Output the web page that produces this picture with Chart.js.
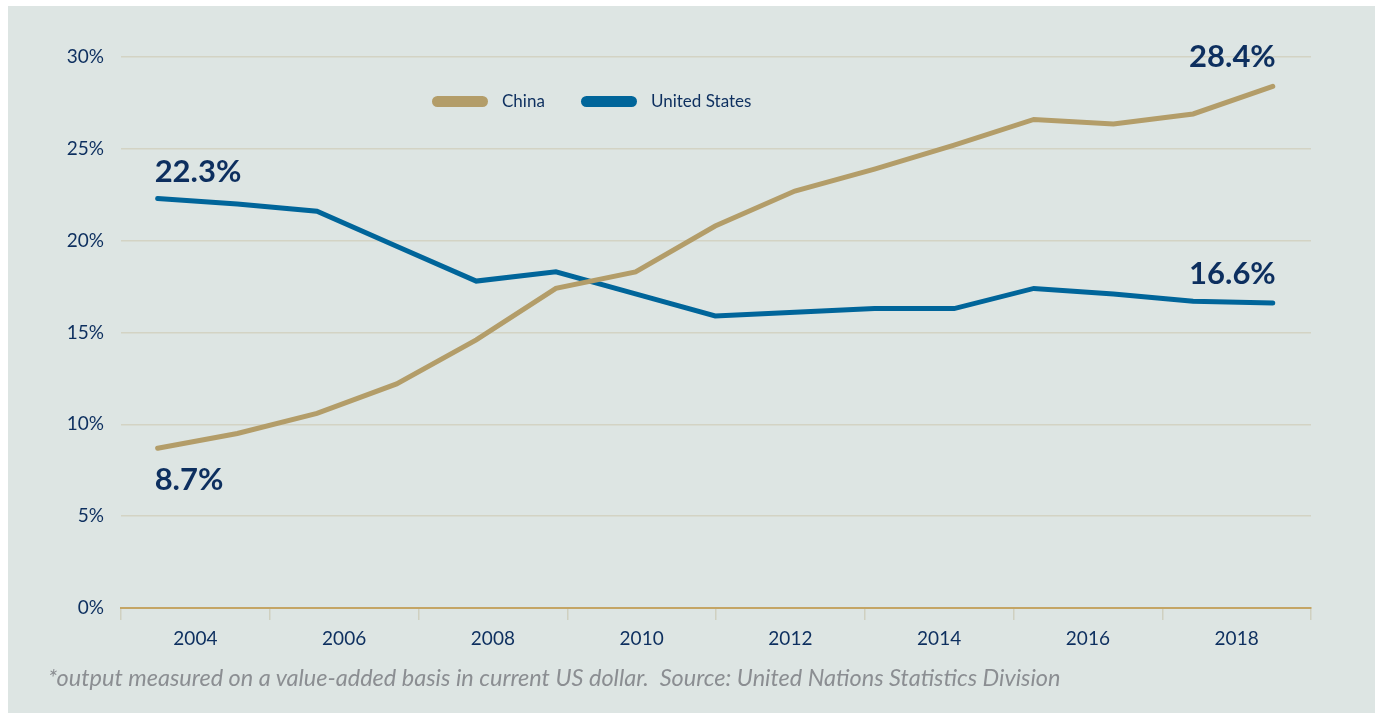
<!DOCTYPE html>
<html>
<head>
<meta charset="utf-8">
<script src="https://cdn.jsdelivr.net/npm/chart.js@4"></script>
<style>
  html, body { margin: 0; padding: 0; background: #fff; }
  #wrap { position: relative; width: 1375px; height: 713px; overflow: hidden; }
  #bg { position: absolute; left: 8px; top: 6px; right: 0; bottom: 0; background: #dde5e3; }
  #chart { position: absolute; left: 0; top: 0; }
  .legend { position: absolute; top: 91px; font: 17px Lato, sans-serif; color: #0d2f5f; }
  .legend span.sw { position: absolute; top: 5px; width: 56px; height: 11px; border-radius: 6px; }
  .legend span.tx { position: absolute; top: 0; white-space: nowrap; line-height: 20px; }
  #note { position: absolute; left: 48px; top: 663px; font: italic 23.5px Lato, sans-serif; color: #8b8e92; white-space: nowrap; }
</style>
</head>
<body>
<div id="wrap">
  <div id="bg"></div>
  <canvas id="chart" width="1375" height="713"></canvas>
  <div class="legend" style="left:432px"><span class="sw" style="left:0;background:#b39d69"></span><span class="tx" style="left:70px">China</span></div>
  <div class="legend" style="left:581px"><span class="sw" style="left:0;background:#00659a"></span><span class="tx" style="left:70px">United States</span></div>
  <div id="note">*output measured on a value-added basis in current US dollar.&nbsp; Source: United Nations Statistics Division</div>
</div>
<script>
// données (part de la production manufacturière mondiale, %)
const years = [2004, 2005, 2006, 2007, 2008, 2009, 2010, 2011, 2012, 2013, 2014, 2015, 2016, 2017, 2018];
const china = [8.7, 9.5, 10.6, 12.2, 14.6, 17.4, 18.3, 20.8, 22.7, 23.9, 25.2, 26.6, 26.35, 26.9, 28.4];
const usa = [22.3, 22.0, 21.6, 19.7, 17.8, 18.3, 17.1, 15.9, 16.1, 16.3, 16.3, 17.4, 17.1, 16.7, 16.6];
const axisLabels = ['2004', '2006', '2008', '2010', '2012', '2014', '2016', '2018'];
const yTicks = [0, 5, 10, 15, 20, 25, 30];

const navy = '#0d2f5f';
const gold = '#b39d69';
const blue = '#00659a';

// étiquettes de début / fin de série
const endLabels = {
    id: 'endLabels',
    afterDatasetsDraw(chart) {
        const ctx = chart.ctx;
        ctx.save();
        ctx.font = 'bold 31px Lato, sans-serif';
        ctx.fillStyle = navy;
        chart.data.datasets.forEach((ds, i) => {
            const pts = chart.getDatasetMeta(i).data;
            const first = pts[0], last = pts[pts.length - 1];
            const v0 = ds.data[0].y, v1 = ds.data[ds.data.length - 1].y;
            // premier point
            ctx.textAlign = 'left';
            if (ds.label === 'China') {
                ctx.textBaseline = 'top';
                ctx.fillText(v0.toFixed(1) + '%', first.x - 3, first.y + 16);
            } else {
                ctx.textBaseline = 'alphabetic';
                ctx.fillText(v0.toFixed(1) + '%', first.x - 3, first.y - 16);
            }
            // dernier point
            ctx.textAlign = 'right';
            ctx.textBaseline = 'alphabetic';
            ctx.fillText(v1.toFixed(1) + '%', last.x + 3, last.y - 19);
        });
        ctx.restore();
    }
};

function toPoints(values) {
    return values.map((v, i) => ({ x: years[i], y: v }));
}

const ctx = document.getElementById('chart').getContext('2d');
new Chart(ctx, {
    type: 'line',
    data: {
        labels: axisLabels,
        datasets: [
            { label: 'China', data: toPoints(china), borderColor: gold, borderWidth: 5, pointRadius: 0, borderCapStyle: 'round', tension: 0, xAxisID: 'x' },
            { label: 'United States', data: toPoints(usa), borderColor: blue, borderWidth: 5, pointRadius: 0, borderCapStyle: 'round', tension: 0, xAxisID: 'x' }
        ]
    },
    options: {
        responsive: false,
        animation: false,
        layout: { padding: { left: 0, right: 64, top: 57, bottom: 65 } },
        plugins: { legend: { display: false }, tooltip: { enabled: false } },
        scales: {
            x: {
                type: 'linear',
                display: false,
                min: 2003.54,
                max: 2018.48
            },
            xLab: {
                type: 'category',
                position: 'bottom',
                labels: axisLabels,
                offset: true,
                grid: { offset: true, drawOnChartArea: false, drawTicks: true, tickLength: 12, color: '#cfd0c0', lineWidth: 1.5 },
                border: { display: true, color: '#c4a565', width: 2 },
                ticks: { color: navy, font: { family: 'Lato', size: 19 }, padding: 7, maxRotation: 0 },
                afterFit(scale) { scale.height = 40; }
            },
            y: {
                min: 0,
                max: 30,
                afterBuildTicks(scale) { scale.ticks = yTicks.map(v => ({ value: v })); },
                grid: {
                    drawTicks: false,
                    color: c => c.tick && c.tick.value === 0 ? 'transparent' : '#d3d3c4',
                    lineWidth: 1.5
                },
                border: { display: false },
                ticks: { color: navy, font: { family: 'Lato', size: 19 }, padding: 17, callback: v => v + '%' },
                afterFit(scale) { scale.width = 121; }
            }
        }
    },
    plugins: [endLabels]
});
</script>
</body>
</html>
